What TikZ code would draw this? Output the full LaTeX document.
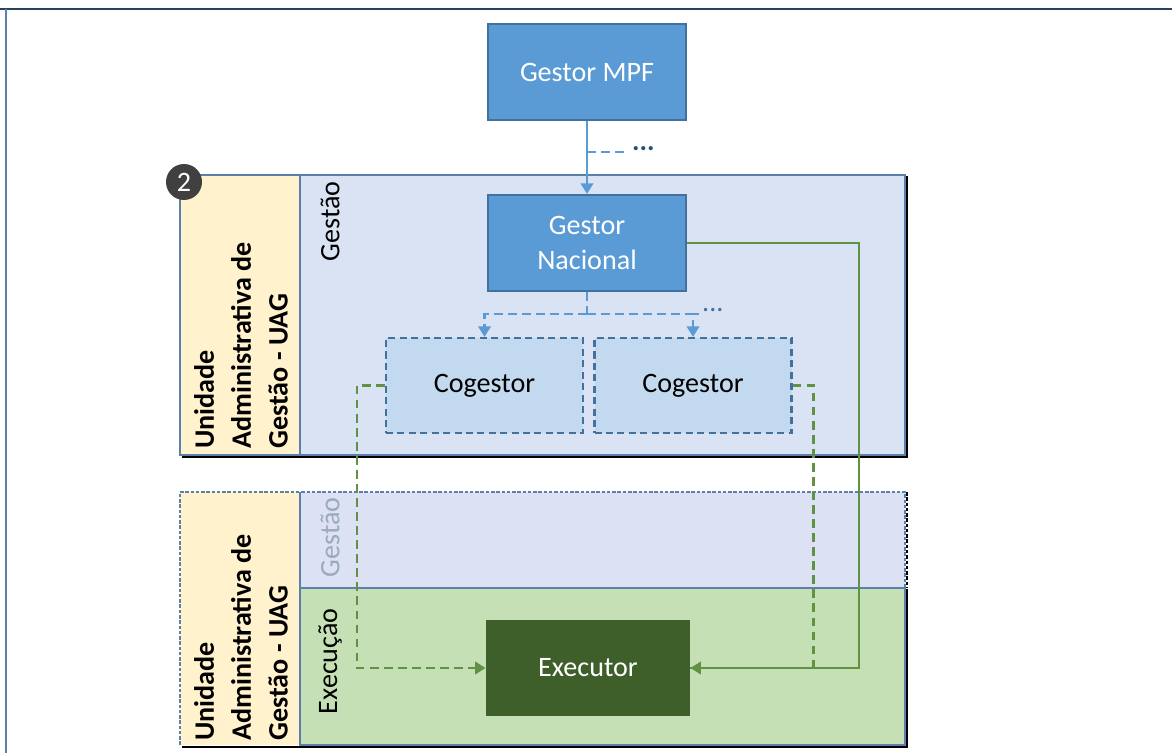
\documentclass[tikz,border=0pt]{standalone}
\usepackage{fontspec}
\setmainfont{Carlito}
\usetikzlibrary{arrows.meta}
\definecolor{mpfblue}{HTML}{5B9BD5}
\definecolor{mpfedge}{HTML}{41719C}
\definecolor{framefill}{HTML}{DAE3F3}
\definecolor{frameedge}{HTML}{5B80AC}
\definecolor{uagfill}{HTML}{FFF2CC}
\definecolor{cogfill}{HTML}{C3D9EF}
\definecolor{lowfill}{HTML}{DCE1F4}
\definecolor{execfill}{HTML}{C6E0B5}
\definecolor{execdark}{HTML}{3F5F2A}
\definecolor{flowgreen}{HTML}{619142}
\definecolor{badgegray}{HTML}{404040}
\definecolor{fadedtext}{HTML}{9AA9C0}
\tikzset{
  gestorbox/.style = {draw=mpfedge, line width=1.2pt, fill=mpfblue, text=white,
    minimum width=198*0.02cm, minimum height=96*0.02cm, align=center, inner sep=0pt},
  cogbox/.style = {draw=mpfedge, line width=1.2pt, dash pattern=on 4pt off 2.5pt,
    fill=cogfill, minimum width=197*0.02cm, minimum height=95*0.02cm, inner sep=0pt},
  execbox/.style = {fill=execdark, text=white,
    minimum width=204*0.02cm, minimum height=96*0.02cm, inner sep=0pt},
  bandlabel/.style = {rotate=90, anchor=east, inner sep=0pt},
  uaglabel/.style = {rotate=90, anchor=west, align=left, inner sep=0pt,
    font=\fontsize{16}{21}\selectfont\bfseries},
  blueflow/.style = {draw=mpfblue, line width=1.6pt},
  bluedash/.style = {blueflow, dash pattern=on 5pt off 3pt},
  greenflow/.style = {draw=flowgreen, line width=1.6pt},
  greendash/.style = {greenflow, dash pattern=on 5pt off 3pt}
}
\begin{document}
\begin{tikzpicture}[x=0.02cm, y=-0.02cm, font=\fontsize{16}{19}\selectfont,
    >={Triangle[width=7pt,length=6pt]}]
  \useasboundingbox (0,0) rectangle (1172,753);
  % page frame
  \draw[mpfedge!60!black, line width=1.6pt] (0,9) -- (1172,9);
  \draw[frameedge, line width=0.8pt] (6,9) -- (6,753);

  % upper UAG
  \fill[framefill] (300,175) rectangle (905,455);
  \fill[uagfill] (180,175) rectangle (300,455);
  \draw[black, line width=0.9pt] (182,457) -- (907,457) -- (907,176);
  \draw[frameedge, line width=1.5pt] (180,175) rectangle (905,455) (300,175) -- (300,455);
  \node[circle, fill=badgegray, text=white, minimum size=36*0.02cm, inner sep=0pt]
    (badge) at (184,182) {2};
  \node[uaglabel] (uagtop) at (241,449) {Unidade\\Administrativa de\\Gestão - UAG};
  \node[bandlabel] (gestop) at (330,181) {Gestão};

  % lower UAG
  \fill[lowfill] (300,492) rectangle (905,588);
  \fill[execfill] (300,588) rectangle (905,745);
  \fill[uagfill] (180,492) rectangle (300,745);
  \draw[frameedge, line width=0.7pt, dash pattern=on 2pt off 1pt]
    (180,745) -- (180,492) -- (905,492) -- (905,588);
  \draw[black, line width=0.7pt, dash pattern=on 2pt off 1pt] (907,492) -- (907,588);
  \draw[black, line width=0.9pt] (182,747) -- (907,747) -- (907,589);
  \draw[frameedge, line width=1.5pt] (300,745) rectangle (905,588) (300,492) -- (300,588);
  \node[uaglabel] (uaglow) at (241,741) {Unidade\\Administrativa de\\Gestão - UAG};
  \node[bandlabel, text=fadedtext] (geslow) at (330,497) {Gestão};
  \node[bandlabel] (execlabel) at (330,608) {Execução};

  % actors
  \node[gestorbox] (mpf)  at (587,72)  {Gestor MPF};
  \node[gestorbox] (nac)  at (587,243) {Gestor\\[1pt]Nacional};
  \node[cogbox]    (cog1) at (484.5,385.5) {Cogestor};
  \node[cogbox]    (cog2) at (693,385.5) {Cogestor};
  \node[execbox]   (exec) at (588,668) {Executor};

  % hierarchy
  \coordinate (split1) at (587,152);
  \coordinate (split2) at (587,314);
  \draw[blueflow, ->] (mpf) -- (nac);
  \draw[bluedash] (split1) -- ++(42,0) node[right, inner sep=1pt, text=mpfedge!70!black,
    yshift=2pt] (more1) {\textbf{...}};
  \draw[bluedash] (nac) -- (split2);
  \draw[bluedash, ->] (split2) -| (cog1);
  \draw[bluedash, ->] (split2) -| (cog2);
  \draw[bluedash] (cog2.north |- split2) -- ++(6,0) node[right, inner sep=1pt,
    text=mpfedge, yshift=2pt] (more2) {...};

  % execution links
  \draw[greendash, ->] (cog1.west) -- ++(-28,0) |- (exec.west);
  \draw[greendash] (cog2.east) -- ++(21,0) |- (exec.east);
  \draw[greenflow, ->] (nac.east) -- ++(172,0) |- (exec.east);
\end{tikzpicture}
\end{document}
